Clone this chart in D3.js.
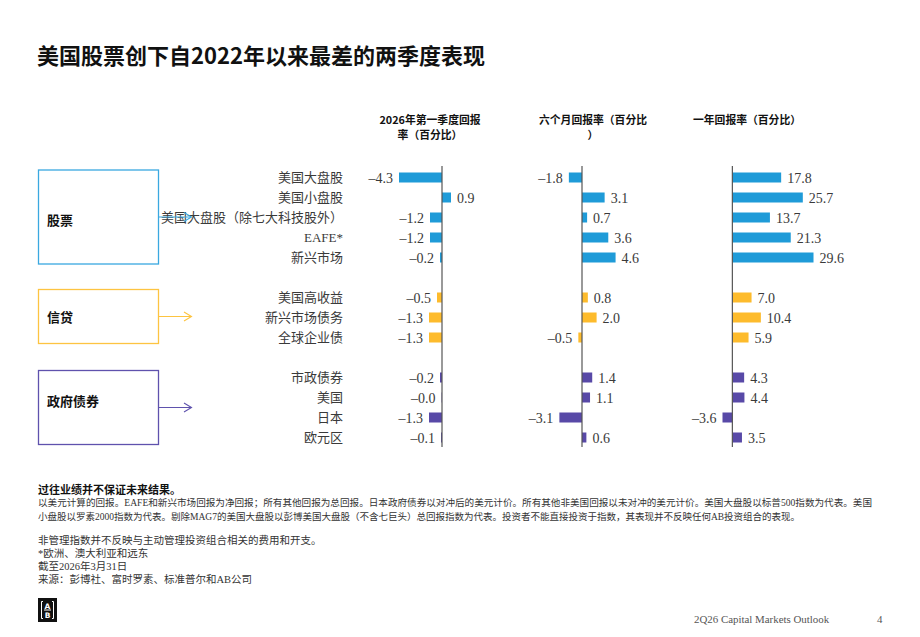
<!DOCTYPE html>
<html>
<head>
<meta charset="utf-8">
<script src="https://cdn.jsdelivr.net/npm/d3@7"></script>
<style>
  body { margin: 0; background: #fff; }
  svg { display: block; }
</style>
</head>
<body>
<div id="chart"></div>
<script>
const title = "美国股票创下自2022年以来最差的两季度表现";
const categories = ["美国大盘股", "美国小盘股", "美国大盘股（除七大科技股外）", "EAFE*", "新兴市场",
    "美国高收益", "新兴市场债务", "全球企业债",
    "市政债券", "美国", "日本", "欧元区"];
const groupOf = ["equity", "equity", "equity", "equity", "equity",
    "credit", "credit", "credit",
    "gov", "gov", "gov", "gov"];
const q1Return = [-4.3, 0.9, -1.2, -1.2, -0.2, -0.5, -1.3, -1.3, -0.2, -0.04, -1.3, -0.1];
const sixMonthReturn = [-1.8, 3.1, 0.7, 3.6, 4.6, 0.8, 2.0, -0.5, 1.4, 1.1, -3.1, 0.6];
const oneYearReturn = [17.8, 25.7, 13.7, 21.3, 29.6, 7.0, 10.4, 5.9, 4.3, 4.4, -3.6, 3.5];
const panelHeaders = [["2026年第一季度回报", "率（百分比）"], ["六个月回报率（百分比", "）"], ["一年回报率（百分比）"]];
const groups = ["equity", "credit", "gov"];
const groupNames = ["股票", "信贷", "政府债券"];
const footnoteBold = "过往业绩并不保证未来结果。";
const footnotes = [
    "以美元计算的回报。EAFE和新兴市场回报为净回报；所有其他回报为总回报。日本政府债券以对冲后的美元计价。所有其他非美国回报以未对冲的美元计价。美国大盘股以标普500指数为代表。美国",
    "小盘股以罗素2000指数为代表。剔除MAG7的美国大盘股以彭博美国大盘股（不含七巨头）总回报指数为代表。投资者不能直接投资于指数，其表现并不反映任何AB投资组合的表现。"
];
const notes = [
    "非管理指数并不反映与主动管理投资组合相关的费用和开支。",
    "*欧洲、澳大利亚和远东",
    "截至2026年3月31日",
    "来源：彭博社、富时罗素、标准普尔和AB公司"
];
const pageLabel = "2Q26 Capital Markets Outlook";
const pageNumber = "4";

const W = 920, H = 637;
const COLORS = {equity: "#1f9bd8", credit: "#fdbb2c", gov: "#5849a7"};
const BORDER = {equity: "#3aa8e0", credit: "#fdc441", gov: "#5f52ad"};
const SERIF = "'Liberation Serif', 'DejaVu Serif', 'Noto Sans CJK SC', serif";
const SANS = "'Noto Sans CJK SC', 'Noto Sans', sans-serif";

// rows with empty spacer slots between groups
const rowKeys = [];
categories.forEach((c, i) => {
    if (i > 0 && groupOf[i] !== groupOf[i - 1]) rowKeys.push("gap" + i);
    rowKeys.push("r" + i);
});
const data = categories.map((c, i) => ({
    key: "r" + i, name: c, group: groupOf[i],
    values: [q1Return[i], sixMonthReturn[i], oneYearReturn[i]]
}));

const y = d3.scaleBand()
    .domain(rowKeys)
    .range([162.5, 452.5])
    .padding(0.5);

const panels = [
    {x: d3.scaleLinear().domain([-5, 1]).range([392, 452]), hx: 430},
    {x: d3.scaleLinear().domain([-4, 5]).range([552.8, 618.5]), hx: 593},
    {x: d3.scaleLinear().domain([-4, 30]).range([721.4, 814.6]), hx: 747}
];

const fmt = v => (v < 0 ? "\u2013" : "") + Math.abs(v).toFixed(1);

const svg = d3.select("#chart").append("svg")
    .attr("width", W)
    .attr("height", H)
    .attr("viewBox", [0, 0, W, H]);

svg.append("rect").attr("width", W).attr("height", H).attr("fill", "#fff");

svg.append("text")
    .attr("x", 37)
    .attr("y", 64)
    .attr("font-family", SANS)
    .attr("font-weight", 700)
    .attr("font-size", 22)
    .attr("fill", "#111")
    .text(title);

// panel headers
panels.forEach((p, pi) => {
    const t = svg.append("text")
        .attr("text-anchor", "middle")
        .attr("font-family", SANS)
        .attr("font-weight", 700)
        .attr("font-size", 10.8)
        .attr("fill", "#111");
    panelHeaders[pi].forEach((line, li) => {
        t.append("tspan")
            .attr("x", p.hx)
            .attr("y", 124 + li * 15)
            .text(line);
    });
});

// category labels
svg.append("g")
    .attr("font-family", SERIF)
    .attr("font-size", 13)
    .attr("fill", "#3a3a3a")
    .attr("text-anchor", "end")
    .selectAll("text")
    .data(data)
    .join("text")
    .attr("x", 343)
    .attr("y", d => y(d.key) + y.bandwidth() / 2 + 4.5)
    .text(d => d.name);

// bars per panel
panels.forEach((p, pi) => {
    const g = svg.append("g");
    const x = p.x;
    g.selectAll("rect")
        .data(data)
        .join("rect")
        .attr("x", d => x(Math.min(0, d.values[pi])))
        .attr("y", d => y(d.key))
        .attr("width", d => Math.abs(x(d.values[pi]) - x(0)))
        .attr("height", y.bandwidth())
        .attr("fill", d => COLORS[d.group]);
    g.append("line")
        .attr("x1", x(0)).attr("x2", x(0))
        .attr("y1", 166).attr("y2", 447)
        .attr("stroke", "#555")
        .attr("stroke-width", 1.2);
    g.selectAll("text")
        .data(data)
        .join("text")
        .attr("font-family", SERIF)
        .attr("font-size", 14)
        .attr("fill", "#3a3a3a")
        .attr("text-anchor", d => d.values[pi] < 0 ? "end" : "start")
        .attr("x", d => d.values[pi] < 0 ? x(d.values[pi]) - 6 : x(d.values[pi]) + 6)
        .attr("y", d => y(d.key) + y.bandwidth() / 2 + 5)
        .text(d => fmt(d.values[pi]));
});

// group boxes and arrows
const boxes = [[170, 264], [289.5, 343.5], [370.5, 444.5]];
const labelY = [220.5, 317, 401.5];
groups.forEach((grp, gi) => {
    const [by0, by1] = boxes[gi];
    const mid = (by0 + by1) / 2;
    svg.append("rect")
        .attr("x", 38.5).attr("y", by0)
        .attr("width", 120).attr("height", by1 - by0)
        .attr("fill", "none")
        .attr("stroke", BORDER[grp])
        .attr("stroke-width", 1.3);
    svg.append("text")
        .attr("x", 47)
        .attr("y", labelY[gi] + 4.5)
        .attr("font-family", SANS)
        .attr("font-weight", 700)
        .attr("font-size", 13)
        .attr("fill", "#111")
        .text(groupNames[gi]);
    svg.append("line")
        .attr("x1", 158.5).attr("x2", 191)
        .attr("y1", mid).attr("y2", mid)
        .attr("stroke", BORDER[grp])
        .attr("stroke-width", 1.1);
    svg.append("path")
        .attr("d", `M${184},${mid - 4.5}L${191.5},${mid}L${184},${mid + 4.5}`)
        .attr("fill", "none")
        .attr("stroke", BORDER[grp])
        .attr("stroke-width", 1.1);
});

// footnotes
svg.append("text")
    .attr("x", 38)
    .attr("y", 494)
    .attr("font-family", SANS)
    .attr("font-weight", 700)
    .attr("font-size", 11)
    .attr("fill", "#111")
    .text(footnoteBold);
const fn = svg.append("g")
    .attr("font-family", SERIF)
    .attr("font-size", 9.5)
    .attr("fill", "#333");
footnotes.forEach((line, i) => {
    const t = fn.append("text")
        .attr("x", 38)
        .attr("y", 505.5 + i * 14)
        .text(line);
    if (i === 0) t.attr("textLength", 834).attr("lengthAdjust", "spacingAndGlyphs");
});
const nt = svg.append("g")
    .attr("font-family", SERIF)
    .attr("font-size", 10.5)
    .attr("fill", "#333");
notes.forEach((line, i) => {
    nt.append("text")
        .attr("x", 38)
        .attr("y", 544 + i * 13)
        .text(line);
});

// logo
const logo = svg.append("g").attr("transform", "translate(38,598)");
logo.append("rect").attr("width", 19).attr("height", 24).attr("fill", "#111");
logo.append("path")
    .attr("d", "M5,3.5H3.5V20.5H5M14,3.5H15.5V20.5H14M6,12H13")
    .attr("fill", "none").attr("stroke", "#fff").attr("stroke-width", 1);
logo.append("text").attr("x", 9.5).attr("y", 10.5).attr("text-anchor", "middle")
    .attr("font-family", "'DejaVu Sans'").attr("font-weight", 700).attr("font-size", 7.5).attr("fill", "#fff").text("A");
logo.append("text").attr("x", 9.5).attr("y", 19.8).attr("text-anchor", "middle")
    .attr("font-family", "'DejaVu Sans'").attr("font-weight", 700).attr("font-size", 7.5).attr("fill", "#fff").text("B");

svg.append("text")
    .attr("x", 694).attr("y", 623)
    .attr("font-family", SERIF).attr("font-size", 10.9).attr("fill", "#555")
    .text(pageLabel);
svg.append("text")
    .attr("x", 877).attr("y", 623)
    .attr("font-family", SERIF).attr("font-size", 10.9).attr("fill", "#555")
    .text(pageNumber);
</script>
</body>
</html>
